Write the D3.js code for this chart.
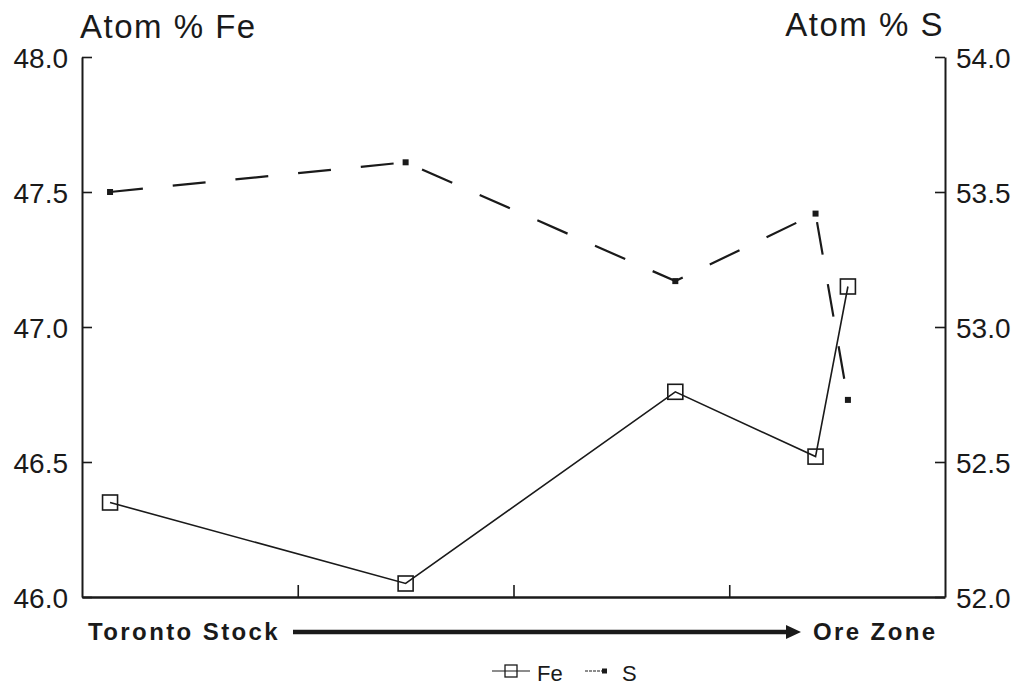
<!DOCTYPE html>
<html>
<head>
<meta charset="utf-8">
<script src="https://cdn.jsdelivr.net/npm/d3@7"></script>
<style>
  html, body { margin: 0; padding: 0; background: #fff; }
  svg { display: block; }
  .tick text { font-family: "Liberation Sans", Arial, sans-serif; font-size: 28px; fill: #1a1a1a; }
</style>
</head>
<body>
<svg id="chart" width="1022" height="689"></svg>
<script>
// Sample positions along the traverse (0 = Toronto Stock end, 4 = Ore Zone end)
const positions = [0.13, 1.5, 2.75, 3.4, 3.55];
// Atom % Fe (left axis)
const feValues = [46.35, 46.05, 46.76, 46.52, 47.15];
// Atom % S (right axis)
const sValues = [53.50, 53.61, 53.17, 53.42, 52.73];
// Axis tick values
const feTicks = [46.0, 46.5, 47.0, 47.5, 48.0];
const sTicks = [52.0, 52.5, 53.0, 53.5, 54.0];
const xTicks = [1, 2, 3];

const svg = d3.select("#chart");
const plotLeft = 82, plotRight = 945, plotTop = 57, plotBottom = 597;
const ink = "#1a1a1a";

const x = d3.scaleLinear().domain([0, 4]).range([plotLeft, plotRight]);
const yFe = d3.scaleLinear().domain([46, 48]).range([plotBottom, plotTop]);
const yS = d3.scaleLinear().domain([52, 54]).range([plotBottom, plotTop]);

// Left axis (Fe)
const gL = svg.append("g").attr("transform", `translate(${plotLeft},0)`)
  .call(d3.axisLeft(yFe).tickValues(feTicks).tickFormat(d3.format(".1f"))
    .tickSizeInner(-10).tickSizeOuter(0).tickPadding(14));
// Right axis (S)
const gR = svg.append("g").attr("transform", `translate(${plotRight},0)`)
  .call(d3.axisRight(yS).tickValues(sTicks).tickFormat(d3.format(".1f"))
    .tickSizeInner(-10).tickSizeOuter(0).tickPadding(11));
// Bottom axis
const gB = svg.append("g").attr("transform", `translate(0,${plotBottom})`)
  .call(d3.axisBottom(x).tickValues(xTicks).tickFormat("")
    .tickSizeInner(-12).tickSizeOuter(0));

[gL, gR].forEach(g => {
  g.select(".domain").attr("stroke", ink).attr("stroke-width", 2);
  g.selectAll(".tick line").attr("stroke", ink).attr("stroke-width", 1.6);
  g.selectAll(".tick text").attr("dy", "0.36em");
});
gB.select(".domain").attr("stroke", ink).attr("stroke-width", 2.5);
gB.selectAll(".tick line").attr("stroke", ink).attr("stroke-width", 1.6);

// Axis titles
svg.append("text").attr("x", 80).attr("y", 38)
  .attr("font-family", "Liberation Sans, Arial, sans-serif").attr("font-size", 33)
  .attr("letter-spacing", 1.5).attr("fill", ink).text("Atom % Fe");
svg.append("text").attr("x", 944).attr("y", 36).attr("text-anchor", "end")
  .attr("font-family", "Liberation Sans, Arial, sans-serif").attr("font-size", 33)
  .attr("letter-spacing", 1.5).attr("fill", ink).text("Atom % S");

// S series: dashed line with small filled squares
const sLine = d3.line().x((d, i) => x(positions[i])).y(d => yS(d));
svg.append("path").datum(sValues).attr("d", sLine)
  .attr("fill", "none").attr("stroke", ink).attr("stroke-width", 2.2)
  .attr("stroke-dasharray", "33,30");
svg.append("g").selectAll("rect").data(sValues).join("rect")
  .attr("x", (d, i) => x(positions[i]) - 3).attr("y", d => yS(d) - 3)
  .attr("width", 6).attr("height", 6).attr("fill", ink);

// Fe series: solid line with open squares
const feLine = d3.line().x((d, i) => x(positions[i])).y(d => yFe(d));
svg.append("path").datum(feValues).attr("d", feLine)
  .attr("fill", "none").attr("stroke", ink).attr("stroke-width", 1.6);
svg.append("g").selectAll("rect").data(feValues).join("rect")
  .attr("x", (d, i) => x(positions[i]) - 7.5).attr("y", d => yFe(d) - 7.5)
  .attr("width", 15).attr("height", 15)
  .attr("fill", "none").attr("stroke", ink).attr("stroke-width", 1.6);

// Traverse direction: Toronto Stock -> Ore Zone
const boldFont = "Liberation Sans, Arial, sans-serif";
svg.append("text").attr("x", 88).attr("y", 640)
  .attr("font-family", boldFont).attr("font-weight", "bold").attr("font-size", 24)
  .attr("letter-spacing", 2.4).attr("fill", ink).text("Toronto Stock");
svg.append("text").attr("x", 813).attr("y", 640)
  .attr("font-family", boldFont).attr("font-weight", "bold").attr("font-size", 24)
  .attr("letter-spacing", 2.4).attr("fill", ink).text("Ore Zone");
svg.append("line").attr("x1", 293).attr("x2", 788).attr("y1", 632).attr("y2", 632)
  .attr("stroke", ink).attr("stroke-width", 4.5);
svg.append("path").attr("d", "M786,625 L801,632 L786,639 Z").attr("fill", ink);

// Legend
const lg = svg.append("g");
lg.append("line").attr("x1", 492).attr("x2", 530).attr("y1", 671).attr("y2", 671)
  .attr("stroke", ink).attr("stroke-width", 1.2);
lg.append("rect").attr("x", 505).attr("y", 665).attr("width", 12).attr("height", 12)
  .attr("fill", "none").attr("stroke", ink).attr("stroke-width", 1.3);
lg.append("text").attr("x", 537).attr("y", 681)
  .attr("font-family", "Liberation Sans, Arial, sans-serif").attr("font-size", 22)
  .attr("fill", ink).text("Fe");
lg.append("line").attr("x1", 585).attr("x2", 604).attr("y1", 671).attr("y2", 671)
  .attr("stroke", ink).attr("stroke-width", 1.2).attr("stroke-dasharray", "3,1");
lg.append("rect").attr("x", 602).attr("y", 668.5).attr("width", 5).attr("height", 5)
  .attr("fill", ink);
lg.append("text").attr("x", 622).attr("y", 681)
  .attr("font-family", "Liberation Sans, Arial, sans-serif").attr("font-size", 22)
  .attr("fill", ink).text("S");
</script>
</body>
</html>
